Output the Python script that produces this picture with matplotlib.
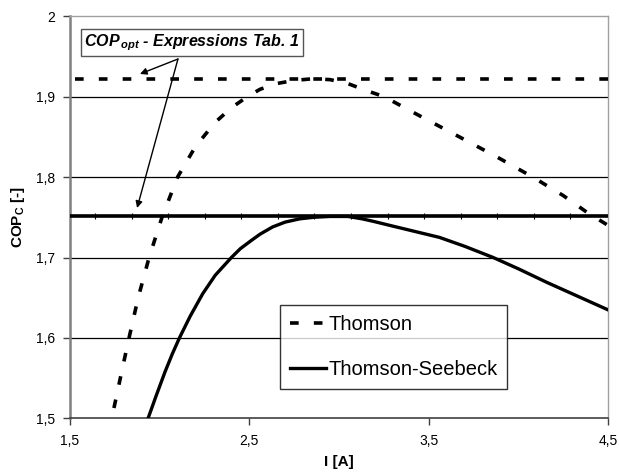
import numpy as np
import matplotlib
matplotlib.use("Agg")
from matplotlib import pyplot as plt

plt.rcParams['font.family'] = ['Liberation Sans', 'DejaVu Sans']
plt.rcParams['mathtext.fontset'] = 'custom'
plt.rcParams['mathtext.rm'] = 'Liberation Sans'
plt.rcParams['mathtext.it'] = 'Liberation Sans:italic'
plt.rcParams['mathtext.bf'] = 'Liberation Sans:bold'
plt.rcParams['mathtext.bfit'] = 'Liberation Sans:italic:bold'

# Thomson model
i_thomson = [1.745, 1.79, 1.829, 1.88, 1.941, 2.013, 2.10, 2.20, 2.31, 2.40, 2.49, 2.56,
             2.65, 2.75, 2.85, 2.95, 3.05, 3.17, 3.25, 3.45, 3.67, 3.88, 4.08, 4.25,
             4.39, 4.5]
cop_thomson = [1.513, 1.560, 1.600, 1.650, 1.700, 1.750, 1.800, 1.838, 1.868, 1.886, 1.900, 1.909,
               1.916, 1.920, 1.922, 1.921, 1.916, 1.906, 1.900, 1.876, 1.850, 1.825, 1.800, 1.777,
               1.755, 1.740]

# Thomson-Seebeck model
i_ts = [1.935, 1.98, 2.03, 2.07, 2.11, 2.17, 2.24, 2.31, 2.40, 2.45, 2.51, 2.56, 2.63,
        2.70, 2.78, 2.86, 2.95, 3.05, 3.13, 3.19, 3.30, 3.43, 3.56, 3.70, 3.86, 4.0,
        4.16, 4.33, 4.5]
cop_ts = [1.500, 1.528, 1.558, 1.580, 1.600, 1.627, 1.655, 1.678, 1.700, 1.711, 1.721, 1.729, 1.738,
          1.744, 1.748, 1.750, 1.751, 1.751, 1.748, 1.745, 1.739, 1.732, 1.725, 1.714, 1.700, 1.686,
          1.669, 1.652, 1.635]

cop_opt_thomson = 1.922
cop_opt_ts = 1.751

xticks = [1.5, 2.5, 3.5, 4.5]
xtick_labels = ['1,5', '2,5', '3,5', '4,5']
yticks = [1.5, 1.6, 1.7, 1.8, 1.9, 2.0]
ytick_labels = ['1,5', '1,6', '1,7', '1,8', '1,9', '2']

fig = plt.figure(figsize=(6.19, 4.74), dpi=100)
ax = fig.add_axes([0.1131, 0.1171, 0.8691, 0.8491])

for y in yticks[1:-1]:
    ax.axhline(y, color='black', lw=0.9, zorder=1)

dash = (2.4, 4.2)
ax.plot([1.53, 4.5], [cop_opt_thomson, cop_opt_thomson], color='black', lw=2.6,
        dashes=dash, zorder=3)
ax.plot([1.5, 4.5], [cop_opt_ts, cop_opt_ts], color='black', lw=2.6, zorder=3)
# small tick marks on the optimum line
mk = np.linspace(1.64, 4.29, 14)
ax.plot(mk, [cop_opt_ts] * len(mk), ls='none', marker='|', ms=5, mew=0.8,
        color='black', zorder=3)

l1, = ax.plot(i_thomson, cop_thomson, color='black', lw=2.6, dashes=dash, zorder=4,
              label='Thomson')
l2, = ax.plot(i_ts, cop_ts, color='black', lw=2.4, zorder=4, label='Thomson-Seebeck')

ax.set_xlim(1.5, 4.5)
ax.set_ylim(1.5, 2.0)
ax.set_xticks(xticks)
ax.set_xticklabels(xtick_labels, fontsize=10)
ax.set_yticks(yticks)
ax.set_yticklabels(ytick_labels, fontsize=10)
ax.tick_params(direction='out', length=5, width=1, color='#404040', pad=6)

for s in ['top', 'right']:
    ax.spines[s].set_color('#a0a0a0')
    ax.spines[s].set_linewidth(1)
ax.spines['left'].set_color('#808080')
ax.spines['left'].set_linewidth(1.8)
ax.spines['bottom'].set_color('#404040')
ax.spines['bottom'].set_linewidth(1.2)

ax.set_xlabel('I [A]', fontsize=11, fontweight='bold', labelpad=5)
ax.set_ylabel(r'$\mathbf{COP_C}$ [-]', fontsize=11, fontweight='bold', labelpad=6)

leg = ax.legend(handles=[l1, l2], loc='lower left', bbox_to_anchor=(0.39, 0.073),
                borderaxespad=0, fontsize=14.5, frameon=True, fancybox=False,
                handlelength=1.8, handletextpad=0.1, labelspacing=1.3,
                borderpad=0.5)
leg.get_frame().set_edgecolor('black')
leg.get_frame().set_linewidth(1)

# annotation box with arrows
src = (2.102, 1.9466)
ax.annotate('', xy=(1.890, 1.928), xytext=src,
            arrowprops=dict(arrowstyle='-|>', color='black', lw=1, mutation_scale=10,
                            shrinkA=0, shrinkB=0), zorder=5)
ax.annotate('', xy=(1.874, 1.7615), xytext=src,
            arrowprops=dict(arrowstyle='-|>', color='black', lw=1, mutation_scale=10,
                            shrinkA=0, shrinkB=0), zorder=5)
ax.text(2.18, 1.9665, r'$\mathbfit{COP}_{\,\mathbfit{opt}}$ - Expressions Tab. 1',
        fontsize=11.5, fontweight='bold', style='italic', ha='center', va='center',
        zorder=6,
        bbox=dict(boxstyle='square,pad=0.2', facecolor='white', edgecolor='#555555', lw=1))

fig.savefig('out.png', dpi=100)
